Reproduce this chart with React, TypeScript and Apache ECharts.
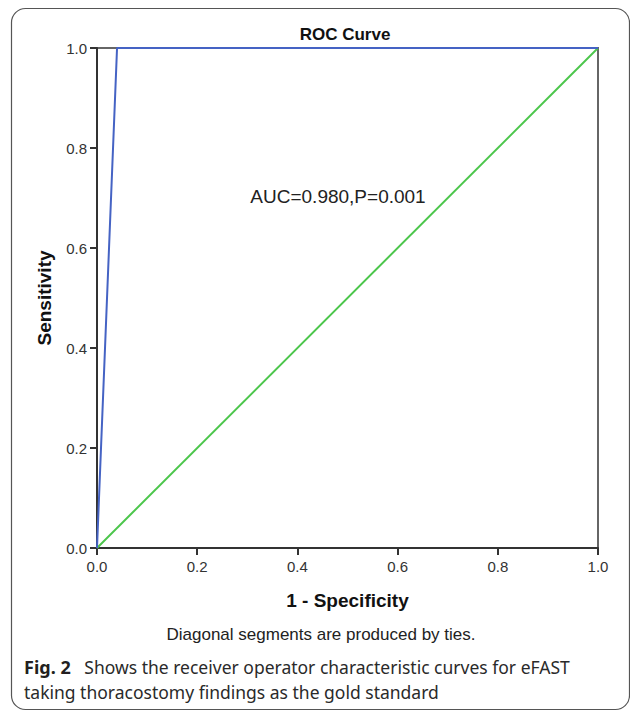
import React, { useEffect, useRef } from "react";
import * as echarts from "echarts";

const rocX = [0, 0.04, 1];
const rocY = [0, 1, 1];
const refX = [0, 1];
const refY = [0, 1];
const tickFormat = (v: number) => v.toFixed(1);
const titleText = "ROC Curve";
const xName = "1 - Specificity";
const yName = "Sensitivity";
const aucText = "AUC=0.980,P=0.001";
const footText = "Diagonal segments are produced by ties.";
const captionBold = "Fig. 2";
const captionLine1 = "Shows the receiver operator characteristic curves for eFAST";
const captionLine2 = "taking thoracostomy findings as the gold standard";

const SANS = '"Liberation Sans", Arial, sans-serif';
const CAP = '"Noto Sans", "Open Sans", sans-serif';

export default function App() {
  const ref = useRef<HTMLDivElement>(null);
  useEffect(() => {
    document.body.style.margin = "0";
    const chart = echarts.init(ref.current!, undefined, { renderer: "svg" });
    const axisCommon = {
      type: "value",
      min: 0,
      max: 1,
      interval: 0.2,
      axisLine: { show: true, lineStyle: { color: "#333", width: 2 } },
      axisTick: { show: true, inside: false, length: 7, lineStyle: { color: "#333", width: 2 } },
      splitLine: { show: false },
      axisLabel: { formatter: tickFormat, color: "#333", fontSize: 15, fontFamily: SANS },
      nameLocation: "middle",
      nameTextStyle: { fontSize: 19, fontWeight: "bold", color: "#111", fontFamily: SANS },
    };
    chart.setOption({
      animation: false,
      backgroundColor: "#fff",
      title: {
        text: titleText,
        left: 340,
        top: 21,
        textAlign: "center",
        textStyle: { fontSize: 17, fontWeight: "bold", color: "#111", fontFamily: SANS },
      },
      grid: {
        left: 97,
        top: 48,
        width: 501,
        height: 500,
        show: true,
        borderColor: "#666",
        borderWidth: 2,
        backgroundColor: "transparent",
      },
      xAxis: { ...axisCommon, name: xName, nameGap: 43, axisLabel: { ...axisCommon.axisLabel, margin: 11 } },
      yAxis: { ...axisCommon, name: yName, nameGap: 43, axisLabel: { ...axisCommon.axisLabel, margin: 10 } },
      series: [
        {
          type: "line",
          data: refX.map((x, i) => [x, refY[i]]),
          showSymbol: false,
          clip: false,
          lineStyle: { color: "#4cc64c", width: 2 },
          z: 3,
        },
        {
          type: "line",
          data: rocX.map((x, i) => [x, rocY[i]]),
          showSymbol: false,
          clip: false,
          lineStyle: { color: "#4563c4", width: 2 },
          z: 4,
        },
      ],
      graphic: [
        {
          type: "rect",
          shape: { x: 11.5, y: 8.5, width: 618, height: 701, r: 14 },
          style: { fill: "none", stroke: "#555", lineWidth: 1.2 },
          z: 0,
        },
        {
          type: "text",
          x: 338,
          y: 196,
          style: { text: aucText, fontSize: 19, fontFamily: SANS, fill: "#222", align: "center", verticalAlign: "middle" },
        },
        {
          type: "text",
          x: 321,
          y: 634,
          style: { text: footText, fontSize: 17, fontFamily: SANS, fill: "#222", align: "center", verticalAlign: "middle" },
        },
        {
          type: "text",
          x: 24,
          y: 667,
          style: {
            text: "{b|" + captionBold + "}   " + captionLine1,
            fontSize: 17.5,
            fontFamily: CAP,
            fill: "#2a2a2a",
            verticalAlign: "middle",
            rich: { b: { fontWeight: "bold", fontSize: 18, fontFamily: CAP, fill: "#231f20" } },
          },
        },
        {
          type: "text",
          x: 24,
          y: 692,
          style: { text: captionLine2, fontSize: 17.5, fontFamily: CAP, fill: "#2a2a2a", verticalAlign: "middle" },
        },
      ],
    });
    return () => chart.dispose();
  }, []);
  return <div ref={ref} style={{ width: 630, height: 711 }} />;
}
